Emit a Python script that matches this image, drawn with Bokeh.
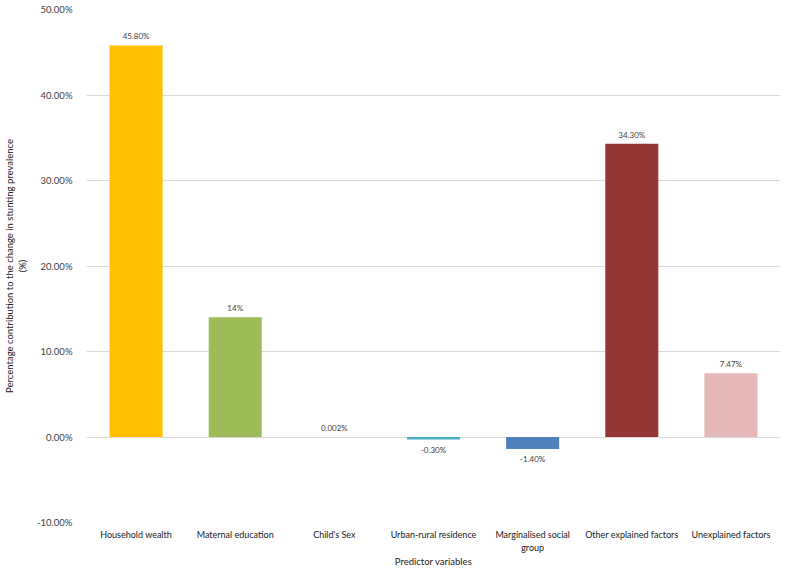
from bokeh.plotting import figure
from bokeh.models import ColumnDataSource, FixedTicker, LabelSet, CustomJSTickFormatter
from bokeh.core.properties import value
from bokeh.embed import file_html
from bokeh.resources import INLINE

categories = ["Household wealth", "Maternal education", "Child's Sex", "Urban-rural residence",
              "Marginalised social\ngroup", "Other explained factors", "Unexplained factors"]
values = [45.80, 14.0, 0.002, -0.30, -1.40, 34.30, 7.47]
value_labels = ["45.80%", "14%", "0.002%", "-0.30%", "-1.40%", "34.30%", "7.47%"]
colors = ["#FFC000", "#9BBB59", "#4BACC6", "#4BACC6", "#4F81BD", "#953735", "#E6B9B8"]
y_ticks = [-10, 0, 10, 20, 30, 40, 50]

FONT = "Lato"

src = ColumnDataSource(dict(cat=categories, val=values, col=colors))

p = figure(x_range=categories, y_range=(-10, 50),
           frame_width=694, frame_height=513,
           output_backend="svg", toolbar_location=None,
           min_border_left=70, min_border_right=0, min_border_top=9, min_border_bottom=0)

p.vbar(x="cat", top="val", bottom=0, width=0.535, fill_color="col", line_color=None, source=src)

pos = ColumnDataSource(dict(cat=[c for c, v in zip(categories, values) if v >= 0],
                            val=[v for v in values if v >= 0],
                            lab=[l for l, v in zip(value_labels, values) if v >= 0]))
neg = ColumnDataSource(dict(cat=[c for c, v in zip(categories, values) if v < 0],
                            val=[v for v in values if v < 0],
                            lab=[l for l, v in zip(value_labels, values) if v < 0]))
p.add_layout(LabelSet(x="cat", y="val", text="lab", source=pos, y_offset=4,
                      text_align="center", text_baseline="bottom",
                      text_font=value(FONT), text_font_size="8px", text_color="#404040"))
p.add_layout(LabelSet(x="cat", y="val", text="lab", source=neg, y_offset=-5,
                      text_align="center", text_baseline="top",
                      text_font=value(FONT), text_font_size="8px", text_color="#404040"))

p.yaxis.ticker = FixedTicker(ticks=y_ticks)
p.yaxis.formatter = CustomJSTickFormatter(code="return tick.toFixed(2) + '%';")
p.yaxis.axis_line_color = None
p.yaxis.major_tick_line_color = None
p.yaxis.minor_tick_line_color = None
p.yaxis.major_label_text_font = FONT
p.yaxis.major_label_text_font_size = "9.5px"
p.yaxis.major_label_text_color = "#404040"
p.yaxis.major_label_standoff = 8
p.yaxis.axis_label = "Percentage contribution to the change in stunting prevalence\n(%)"
p.yaxis.axis_label_text_font = FONT
p.yaxis.axis_label_text_font_size = "9.5px"
p.yaxis.axis_label_text_font_style = "normal"
p.yaxis.axis_label_text_color = "#202020"
p.yaxis.axis_label_standoff = 6

p.xaxis.axis_line_color = None
p.xaxis.major_tick_line_color = None
p.xaxis.minor_tick_line_color = None
p.xaxis.major_label_text_font = FONT
p.xaxis.major_label_text_font_size = "9px"
p.xaxis.major_label_text_color = "#202020"
p.xaxis.major_label_standoff = 0
p.xaxis.axis_label = "Predictor variables"
p.xaxis.axis_label_text_font = FONT
p.xaxis.axis_label_text_font_size = "9.5px"
p.xaxis.axis_label_text_font_style = "normal"
p.xaxis.axis_label_text_color = "#202020"
p.xaxis.axis_label_standoff = 0

p.xgrid.grid_line_color = None
p.ygrid.grid_line_color = "#D9D9D9"
p.ygrid.ticker = FixedTicker(ticks=y_ticks)
p.outline_line_color = None

open("out.html", "w").write(file_html(p, INLINE))
